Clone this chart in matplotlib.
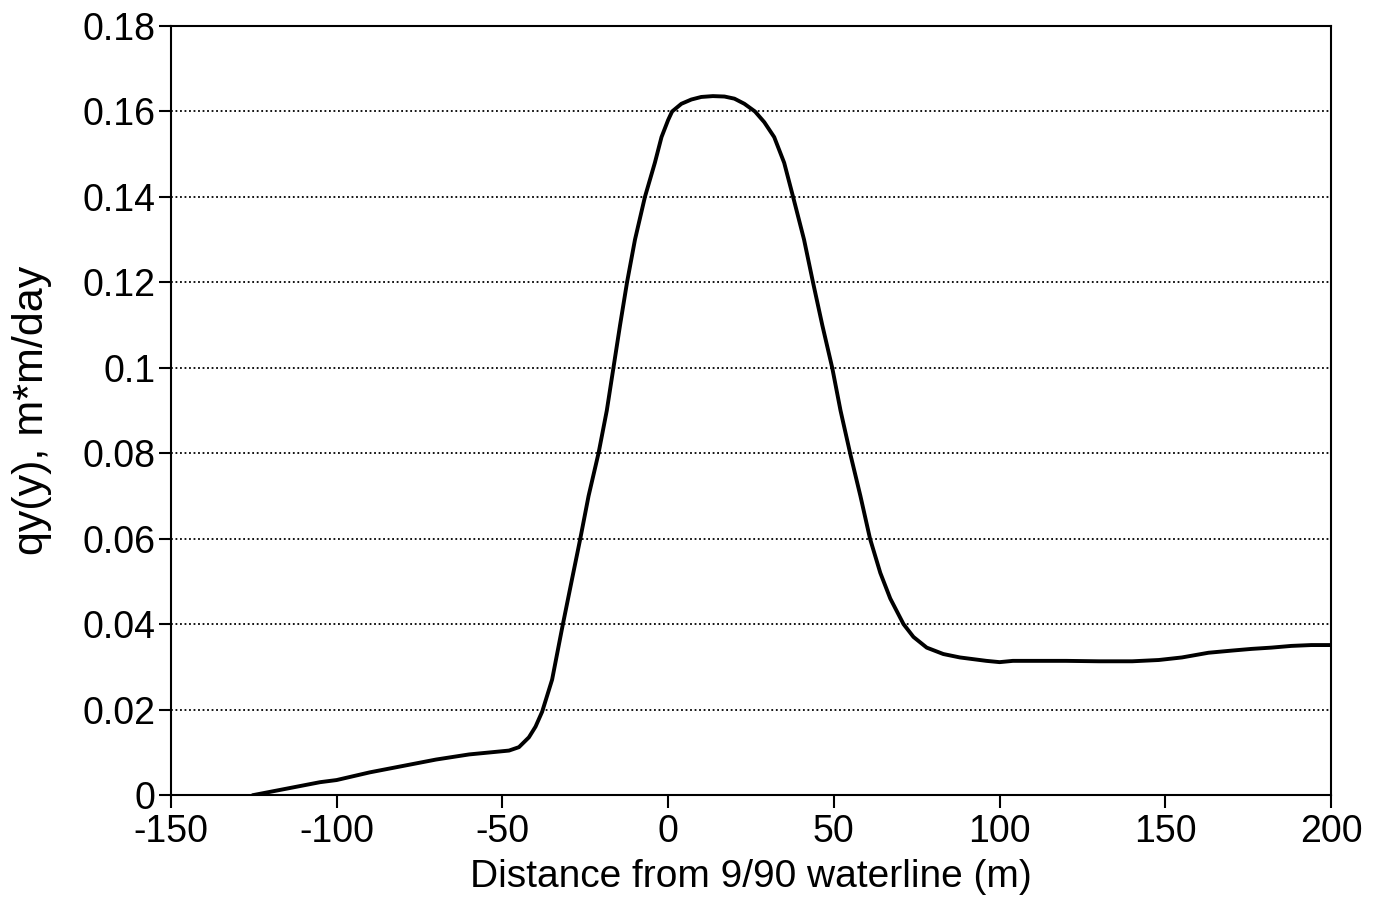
import numpy as np
import matplotlib.pyplot as plt

plt.rcParams['font.family'] = ['Liberation Sans', 'DejaVu Sans']
plt.rcParams['axes.unicode_minus'] = False

# curve
dist = [-125, -115, -105, -100, -90, -80, -70, -60, -52, -48, -45, -42,
        -40, -38, -35, -32, -29, -26.5, -24, -21, -18.5, -16.5, -14.5, -12.4,
        -10, -7, -4, -2, 0, 1.2, 4, 7, 10, 13.5, 17, 20, 23, 26.2, 29, 32,
        35, 37.7, 41, 43.7, 46.5, 49.5, 52, 54.9, 58, 60.9, 64, 67, 71, 74,
        78, 83, 88, 92, 96, 100, 104, 110, 120, 130, 140, 148, 155, 163,
        170, 176, 182, 188, 194, 200]
qy = [0.0, 0.0015, 0.003, 0.0035, 0.0053, 0.0068, 0.0083, 0.0095, 0.0101, 0.0104, 0.0112, 0.0135,
      0.0160, 0.0195, 0.0270, 0.0390, 0.0505, 0.0600, 0.0700, 0.0800, 0.0900, 0.1000, 0.1100, 0.1200,
      0.1300, 0.1400, 0.1480, 0.1540, 0.1580, 0.1600, 0.1618, 0.1628, 0.1634, 0.1636, 0.1635, 0.1630, 0.1618, 0.1600, 0.1575, 0.1540,
      0.1480, 0.1400, 0.1300, 0.1200, 0.1100, 0.1000, 0.0900, 0.0800, 0.0700, 0.0600, 0.0520, 0.0460, 0.0400, 0.0370,
      0.0345, 0.0330, 0.0322, 0.0318, 0.0314, 0.0311, 0.0314, 0.0314, 0.0314, 0.0313, 0.0313, 0.0316, 0.0322, 0.0333,
      0.0338, 0.0342, 0.0345, 0.0349, 0.0351, 0.0351]

xticks = [-150, -100, -50, 0, 50, 100, 150, 200]
yticks = [0, 0.02, 0.04, 0.06, 0.08, 0.1, 0.12, 0.14, 0.16, 0.18]
ytick_labels = ['0', '0.02', '0.04', '0.06', '0.08', '0.1', '0.12', '0.14', '0.16', '0.18']

fig = plt.figure(figsize=(13.78, 8.98), dpi=100)
ax = fig.add_axes([0.124, 0.1147, 0.842, 0.8563])

for yv in yticks[1:-1]:
    ax.axhline(yv, color='black', linestyle=(0, (1, 1.5)), linewidth=1.3, zorder=1)

ax.plot(dist, qy, color='black', linewidth=2.8, zorder=3)

ax.set_xlim(-150, 200)
ax.set_ylim(0, 0.18)
ax.set_xticks(xticks)
ax.set_yticks(yticks)
ax.set_yticklabels(ytick_labels)
ax.tick_params(direction='out', length=9, width=1.5, labelsize=27, pad=2)
ax.tick_params(axis='x', pad=5)
for s in ax.spines.values():
    s.set_linewidth(1.5)

ax.set_xlabel('Distance from 9/90 waterline (m)', fontsize=28, labelpad=6)
ax.set_ylabel('qy(y), m*m/day', fontsize=31, labelpad=22)

fig.savefig('out.png', dpi=100)
